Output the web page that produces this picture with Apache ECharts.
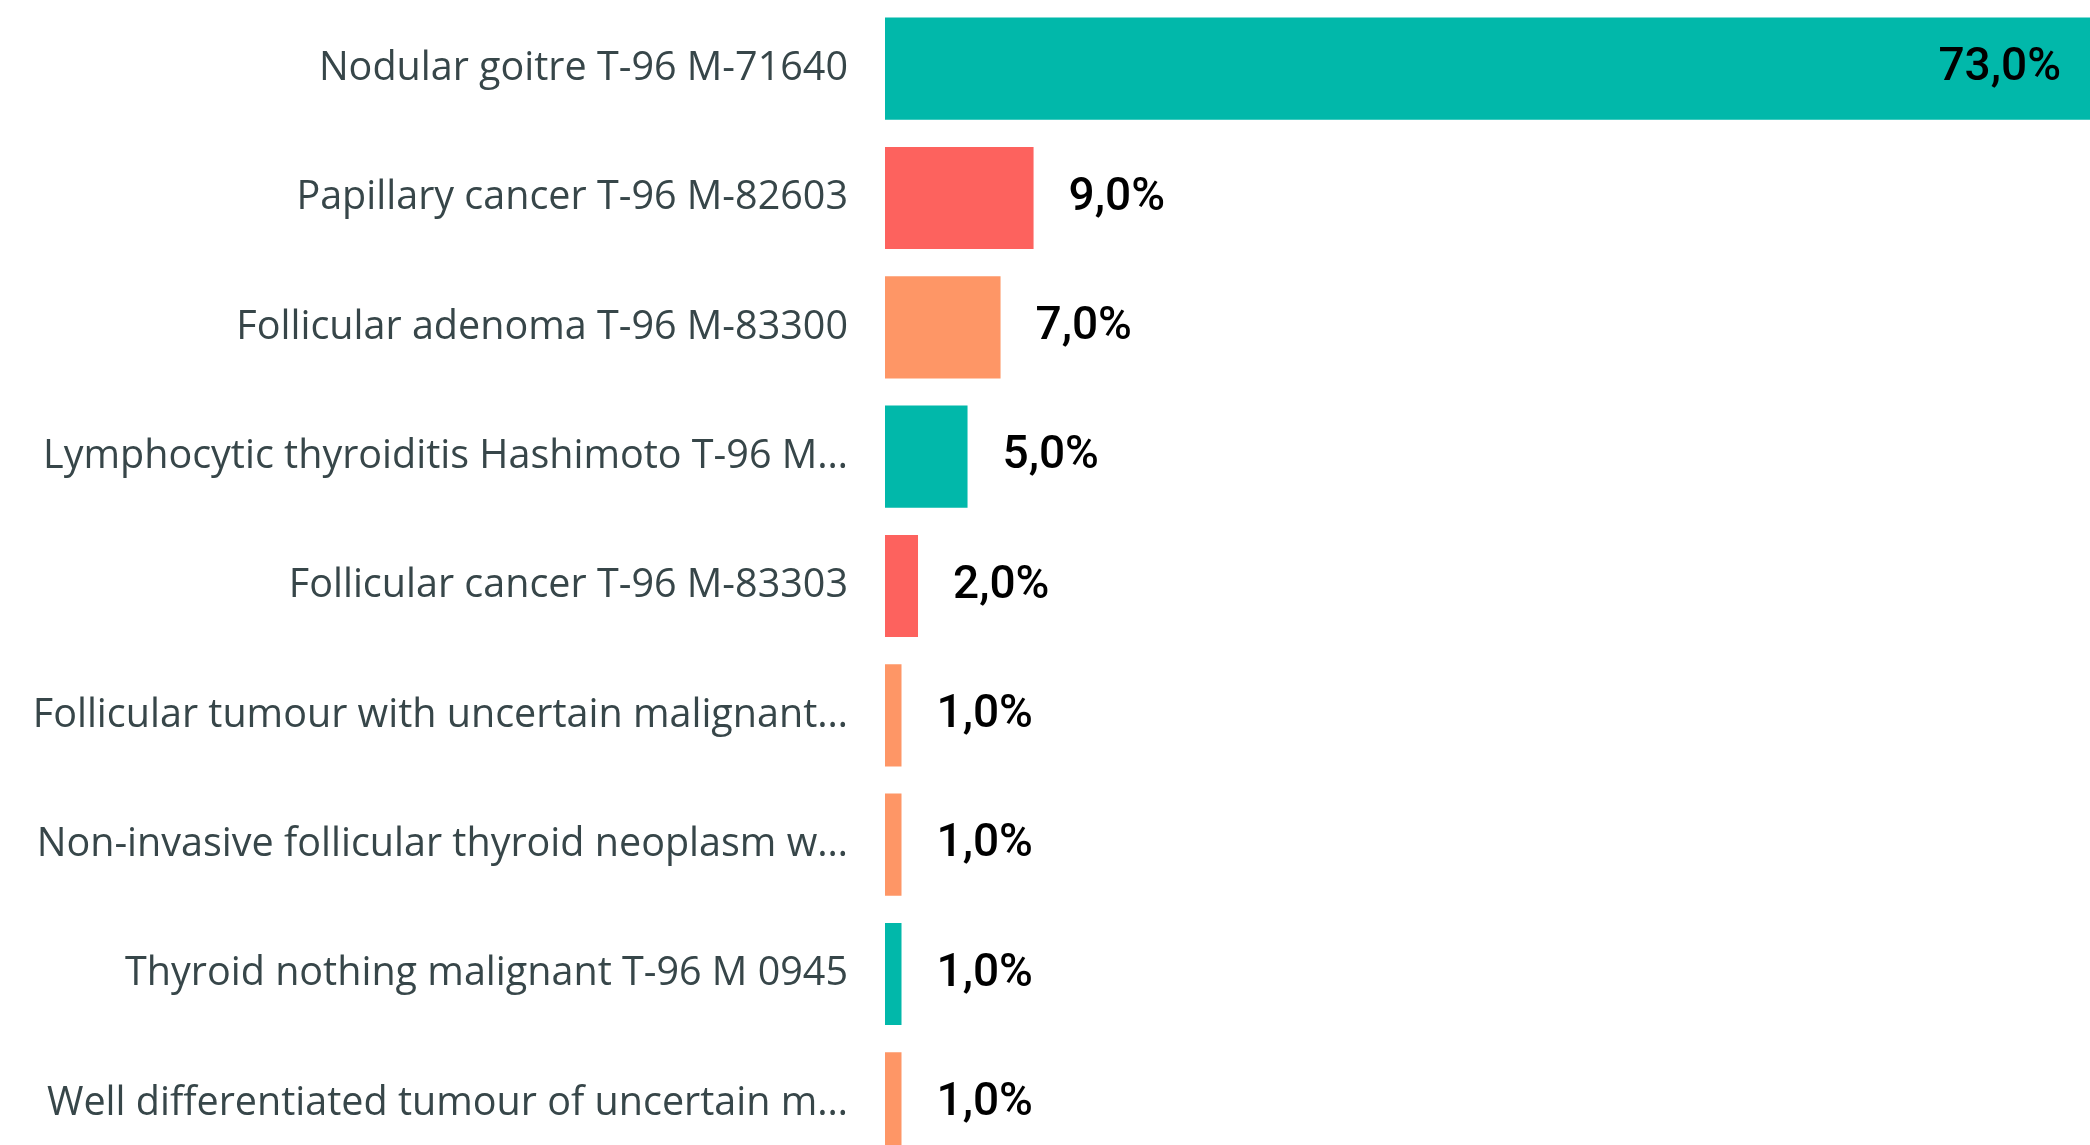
<!DOCTYPE html>
<html>
<head>
<meta charset="utf-8">
<script src="https://cdn.jsdelivr.net/npm/echarts@6/dist/echarts.min.js"></script>
<style>
  html, body { margin: 0; padding: 0; background: #fff; }
  #chart { width: 2090px; height: 1145px; }
</style>
</head>
<body>
<div id="chart"></div>
<script>
// categories, top to bottom
const categories = [
  'Nodular goitre T-96 M-71640',
  'Papillary cancer T-96 M-82603',
  'Follicular adenoma T-96 M-83300',
  'Lymphocytic thyroiditis Hashimoto T-96 M…',
  'Follicular cancer T-96 M-83303',
  'Follicular tumour with uncertain malignant…',
  'Non-invasive follicular thyroid neoplasm w…',
  'Thyroid nothing malignant T-96 M 0945',
  'Well differentiated tumour of uncertain m…'
]
const shares = [73, 9, 7, 5, 2, 1, 1, 1, 1]
const barColors = ['#01B8AA', '#FD625E', '#FE9666', '#01B8AA', '#FD625E', '#FE9666', '#FE9666', '#01B8AA', '#FE9666']

const chart = echarts.init(document.getElementById('chart'))

// '73,0%' style labels (comma decimal)
function fmt(v) {
  return v.toFixed(1).replace('.', ',') + '%'
}

const option = {
  backgroundColor: '#fff',
  animation: false,
  grid: { left: 885, right: 0, top: 4, bottom: -23, outerBoundsMode: 'none' },
  xAxis: {
    type: 'value',
    min: 0,
    max: 73,
    show: false
  },
  yAxis: {
    type: 'category',
    inverse: true,
    data: categories,
    axisLine: { show: false },
    axisTick: { show: false },
    splitLine: { show: false },
    axisLabel: {
      margin: 37,
      color: '#374649',
      fontFamily: 'Open Sans',
      fontSize: 39.5,
      padding: [6, 0, 0, 0]
    }
  },
  series: [{
    type: 'bar',
    barCategoryGap: '21%',
    data: shares.map((v, i) => ({
      value: v,
      itemStyle: { color: barColors[i] },
      label: i === 0 ? { position: 'insideRight', distance: 29 } : {}
    })),
    label: {
      show: true,
      position: 'right',
      distance: 35,
      color: '#000',
      fontFamily: 'Roboto',
      fontWeight: 500,
      fontSize: 46,
      padding: [6, 0, 0, 0],
      formatter: p => fmt(p.value)
    }
  }]
}

chart.setOption(option)
</script>
</body>
</html>
